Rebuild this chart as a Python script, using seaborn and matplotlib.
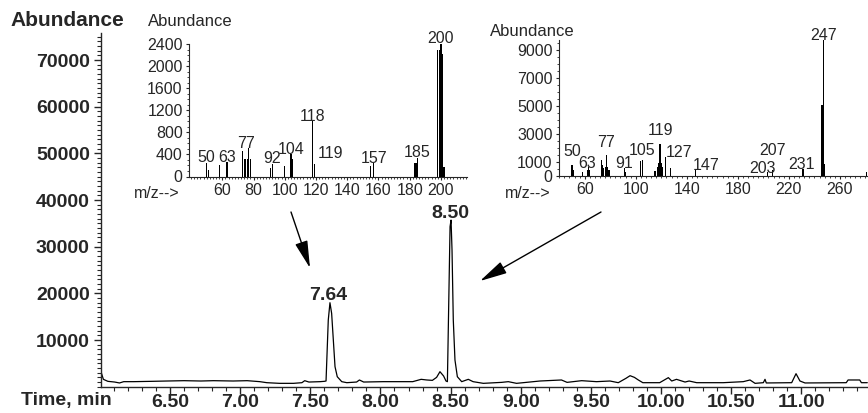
import matplotlib
matplotlib.use('Agg')
import matplotlib.pyplot as plt
from matplotlib.patches import FancyArrowPatch
from matplotlib.ticker import MultipleLocator
import seaborn as sns

# ---- total ion chromatogram (time in min, abundance) ----
rt = [6.01, 6.025, 6.057, 6.105, 6.14, 6.17, 6.24, 6.37, 6.48, 6.60, 6.72, 6.81,
      6.95, 7.05, 7.14, 7.19, 7.28, 7.38, 7.44, 7.46, 7.49, 7.57, 7.60, 7.612,
      7.628, 7.640, 7.652, 7.664, 7.676, 7.692, 7.724, 7.76, 7.83, 7.85, 7.88,
      8.02, 8.23, 8.29, 8.33, 8.37, 8.40, 8.424, 8.45, 8.467, 8.477, 8.487,
      8.496, 8.503, 8.510, 8.519, 8.531, 8.548, 8.579, 8.626, 8.66, 8.733,
      8.864, 8.911, 8.97, 9.137, 9.29, 9.33, 9.434, 9.54, 9.636, 9.695, 9.75,
      9.779, 9.81, 9.838, 9.87, 9.99, 10.052, 10.076, 10.11, 10.171, 10.20,
      10.254, 10.443, 10.586, 10.634, 10.67, 10.729, 10.741, 10.75, 10.931,
      10.962, 10.99, 11.026, 11.32, 11.333, 11.416, 11.428, 11.47]
tic = [3000, 1580, 1150, 1000, 800, 1080, 1080, 1150, 1220, 1290, 1220, 1290,
       1220, 1290, 1080, 860, 720, 720, 860, 1290, 1000, 1080, 1150, 1220,
       14300, 18000, 15700, 10000, 4290, 2140, 1080, 860, 1000, 1440, 1000,
       1080, 1080, 1580, 1440, 1360, 2000, 3215, 2290, 1220, 1080, 18600,
       34300, 35700, 29300, 14300, 5720, 2140, 1080, 1580, 1080, 720,
       930, 1080, 720, 1220, 1440, 930, 1290, 1080, 1220, 860, 1800,
       2360, 2000, 1440, 860, 860, 1940, 1220, 1580, 1000, 1220,
       860, 860, 1080, 1440, 720, 860, 1580, 800, 860,
       2790, 1220, 800, 860, 1440, 1440, 860, 860]
peak_labels = ['7.64', '8.50']
peak_rt = [7.626, 8.50]
peak_ab = [18600, 36200]

# ---- mass spectrum of peak 7.64 ----
mz1 = [50, 51, 58, 63, 73, 74, 75, 76, 77, 78, 91, 92, 100, 104, 105,
       118, 119, 155, 157, 183, 184, 185, 198, 199, 200, 201, 202]
ab1 = [240, 120, 209, 258, 463, 312, 312, 312, 513, 312, 149, 227, 190, 409, 318,
       1030, 227, 196, 251, 240, 250, 330, 2290, 2300, 2420, 2230, 180]
lab1 = ['50', '63', '77', '92', '104', '118', '119', '157', '185', '200']
lab1_mz = [50, 63, 75.5, 92, 104, 118, 129, 157, 185, 199.6]
lab1_ab = [264, 264, 518, 245, 409, 1000, 336, 245, 355, 2430]

# ---- mass spectrum of peak 8.50 ----
mz2 = [50, 51, 58, 62, 63, 64, 73, 74, 75, 76, 77, 78, 79, 91, 92, 104, 105,
       115, 117, 118, 119, 120, 121, 123, 127, 147, 203, 207, 231, 246, 247,
       248, 281]
ab2 = [760, 400, 285, 400, 640, 400, 1120, 760, 525, 640, 1475, 640, 400, 525,
       285, 1050, 1120, 330, 600, 930, 2300, 880, 600, 1310, 525, 455, 285, 400,
       455, 5035, 9790, 830, 285]
lab2 = ['50', '63', '77', '91', '105', '119', '127', '147', '203', '207', '231', '247']
lab2_mz = [50, 62, 77, 91, 105, 119, 134, 155, 199, 207, 230, 247]
lab2_ab = [1400, 550, 2070, 530, 1475, 2900, 1330, 405, 170, 1475, 455, 9700]

sns.set_style('ticks')
plt.rcParams['font.family'] = ['Liberation Sans', 'DejaVu Sans']

W, H = 868, 413
fig = plt.figure(figsize=(W / 100, H / 100), dpi=100)


def px_axes(left, top, right, bottom):
    # axes rectangle from pixel edges measured from the top-left corner
    return [left / W, 1 - bottom / H, (right - left) / W, (bottom - top) / H]


# main chromatogram
ax = fig.add_axes(px_axes(101, 33, 868, 386.7))
sns.lineplot(x=rt, y=tic, color='black', linewidth=0.9, ax=ax)
ax.set_xlim(6.008, 11.475)
ax.set_ylim(0, 75800)
sns.despine(ax=ax)
for sp in ax.spines.values():
    sp.set_linewidth(1.0)

xt = [6.5, 7.0, 7.5, 8.0, 8.5, 9.0, 9.5, 10.0, 10.5, 11.0]
ax.set_xticks(xt, labels=[f'{v:.2f}' for v in xt], fontsize=14, fontweight='bold')
ax.xaxis.set_minor_locator(MultipleLocator(0.1))
yt = [10000, 20000, 30000, 40000, 50000, 60000, 70000]
ax.set_yticks(yt, labels=[str(v) for v in yt], fontsize=14, fontweight='bold')
ax.yaxis.set_minor_locator(MultipleLocator(1000))
ax.tick_params(which='major', length=5, width=1)
ax.tick_params(which='minor', length=3, width=0.8)
ax.tick_params(axis='x', which='major', pad=0.5)
ax.tick_params(axis='y', which='major', pad=3)
ax.set_xlabel('')
ax.set_ylabel('')

for txt, x, y in zip(peak_labels, peak_rt, peak_ab):
    ax.text(x, y, txt, ha='center', va='baseline', fontsize=14, fontweight='bold')

fig.text(10 / W, 1 - 20 / H, 'Abundance', ha='left', va='center',
         fontsize=15, fontweight='bold')
fig.text(21 / W, 1 - 401 / H, 'Time, min', ha='left', va='center',
         fontsize=14, fontweight='bold')


def draw_spectrum(rect, mz, ab, xlim, ylim, xticks, xminor, yticks, yminor,
                  labels, lmz, lab, shrink):
    a = fig.add_axes(rect)
    sns.histplot(x=mz, weights=ab, discrete=True, shrink=shrink, color='black',
                 alpha=1, linewidth=0, ax=a)
    a.patch.set_alpha(0)
    a.set_xlim(*xlim)
    a.set_ylim(*ylim)
    sns.despine(ax=a)
    a.set_xticks(xticks, labels=[str(v) for v in xticks], fontsize=11.5)
    a.set_yticks(yticks, labels=[str(v) for v in yticks], fontsize=11.5)
    a.xaxis.set_minor_locator(MultipleLocator(xminor))
    a.yaxis.set_minor_locator(MultipleLocator(yminor))
    a.tick_params(which='major', length=2.5, width=0.8, pad=2)
    a.tick_params(which='minor', length=1.5, width=0.6)
    a.set_xlabel('')
    a.set_ylabel('')
    for t, x, y in zip(labels, lmz, lab):
        a.text(x, y, t, ha='center', va='baseline', fontsize=11.5)
    return a


draw_spectrum(px_axes(189, 44.3, 467, 176.5), mz1, ab1, (38.7, 216.7), (0, 2400),
              [60, 80, 100, 120, 140, 160, 180, 200], 2,
              [0, 400, 800, 1200, 1600, 2000, 2400], 100,
              lab1, lab1_mz, lab1_ab, 0.75)
fig.text(148 / W, 1 - 22 / H, 'Abundance', ha='left', va='center', fontsize=12)
fig.text(134 / W, 1 - 193 / H, 'm/z-->', ha='left', va='center', fontsize=11.5)

draw_spectrum(px_axes(559, 40, 868, 175.7), mz2, ab2, (39.8, 282), (0, 9700),
              [60, 100, 140, 180, 220, 260], 4,
              [0, 1000, 3000, 5000, 7000, 9000], 500,
              lab2, lab2_mz, lab2_ab, 0.9)
fig.text(490 / W, 1 - 31 / H, 'Abundance', ha='left', va='center', fontsize=12)
fig.text(505 / W, 1 - 193 / H, 'm/z-->', ha='left', va='center', fontsize=11.5)

# arrows pointing from the spectra to their peaks
arrow_style = dict(arrowstyle='-|>,head_length=1.4,head_width=0.33', color='black',
                   lw=1, mutation_scale=12, shrinkA=0, shrinkB=0)
for (x0, y0), (x1, y1) in [((291, 212), (310, 268)), ((601, 212), (480, 281))]:
    fig.add_artist(FancyArrowPatch((x0 / W, 1 - y0 / H), (x1 / W, 1 - y1 / H),
                                   transform=fig.transFigure, **arrow_style))

fig.savefig('out.png', dpi=100)
